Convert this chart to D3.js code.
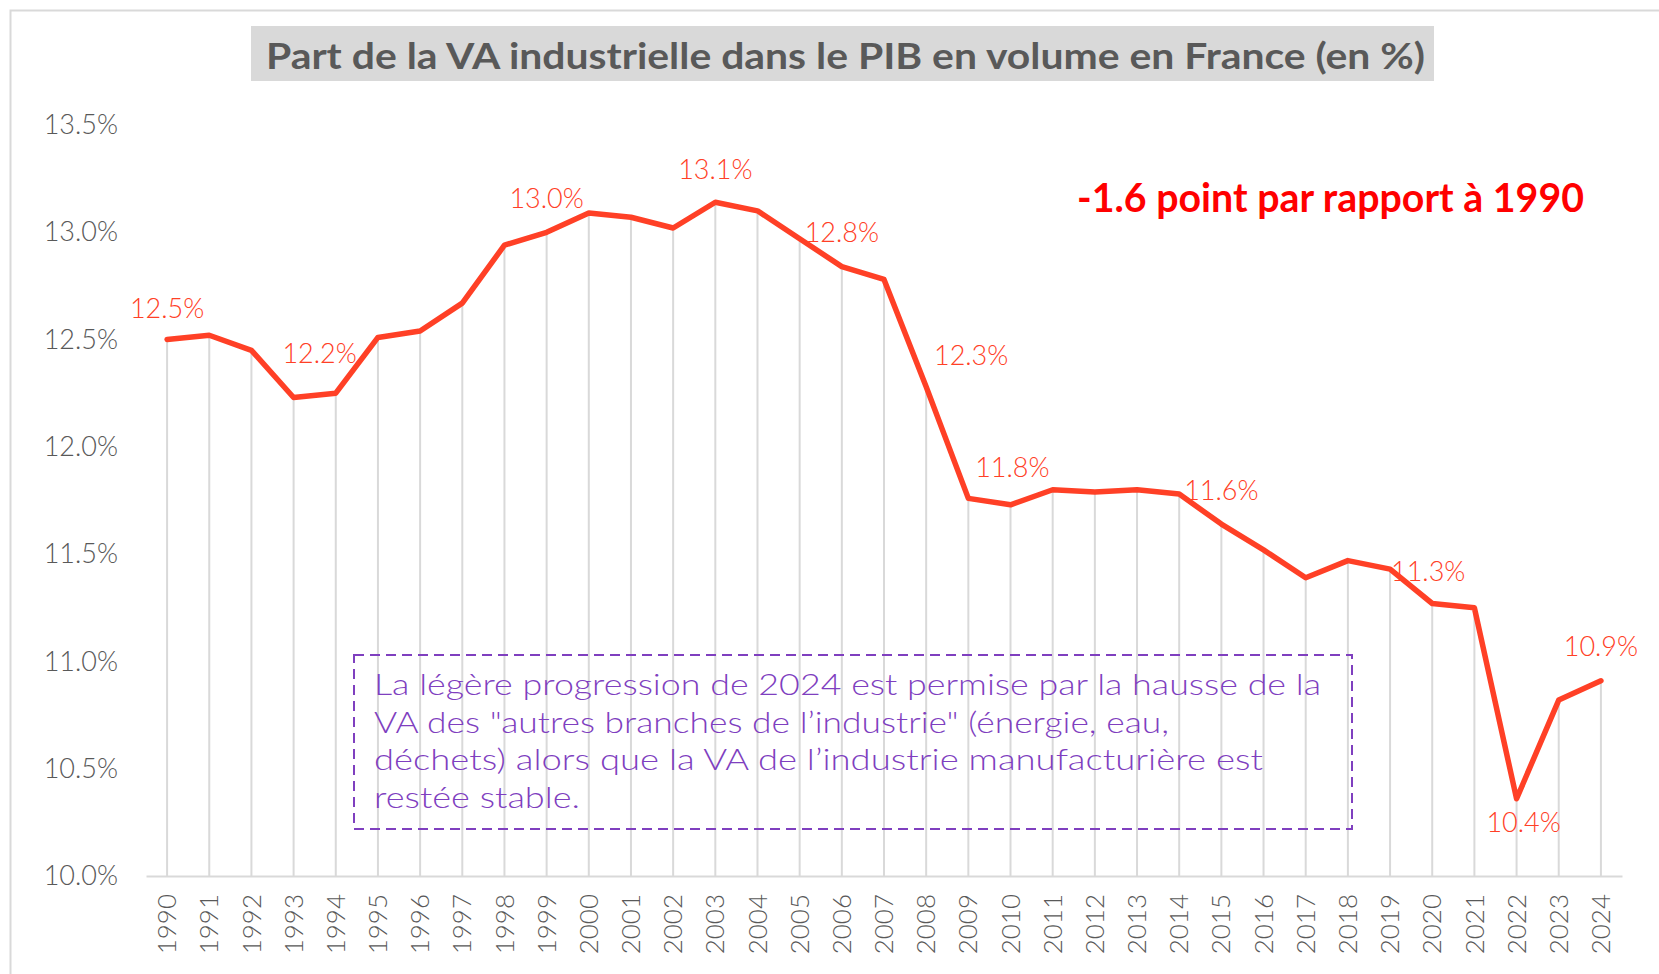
<!DOCTYPE html>
<html>
<head>
<meta charset="utf-8">
<script src="https://cdn.jsdelivr.net/npm/d3@7"></script>
<style>
  body { margin: 0; background: #fff; }
  svg { display: block; font-family: Lato, "Open Sans", sans-serif; }
</style>
</head>
<body>
<svg width="1659" height="974"></svg>
<script>

var years = [1990, 1991, 1992, 1993, 1994, 1995, 1996, 1997, 1998, 1999,
             2000, 2001, 2002, 2003, 2004, 2005, 2006, 2007, 2008, 2009,
             2010, 2011, 2012, 2013, 2014, 2015, 2016, 2017, 2018, 2019,
             2020, 2021, 2022, 2023, 2024];

var shareVA = [12.50, 12.52, 12.45, 12.23, 12.25, 12.51, 12.54, 12.67, 12.94, 13.00,
               13.09, 13.07, 13.02, 13.14, 13.10, 12.97, 12.84, 12.78, 12.28, 11.76,
               11.73, 11.80, 11.79, 11.80, 11.78, 11.64, 11.52, 11.39, 11.47, 11.43,
               11.27, 11.25, 10.36, 10.82, 10.91];

var yTicks = [10.0, 10.5, 11.0, 11.5, 12.0, 12.5, 13.0, 13.5];

var labelYears = [1990, 1993, 1999, 2003, 2006, 2008, 2009, 2015, 2020, 2022, 2024];

var title = 'Part de la VA industrielle dans le PIB en volume en France (en %)';
var callout = '-1.6 point par rapport à 1990';
var noteLines = [
  'La légère progression de 2024 est permise par la hausse de la',
  'VA des "autres branches de l\u2019industrie" (énergie, eau,',
  'déchets) alors que la VA de l\u2019industrie manufacturière est',
  'restée stable.'
];

var data = years.map(function(y, i) { return { year: y, value: shareVA[i] }; });

var svg = d3.select('svg'),
    w = +svg.attr('width'),
    h = +svg.attr('height');

var grey = '#d9d9d9',
    textGrey = '#595959',
    red = '#ff4026',
    purple = '#7f3fbf';

// outer frame (right / bottom edges fall outside the picture)
svg.append('rect')
    .attr('x', 10.5).attr('y', 10.5)
    .attr('width', w + 20).attr('height', h + 20)
    .attr('fill', 'none')
    .attr('stroke', grey)
    .attr('stroke-width', 2);

var x = d3.scaleBand()
      .domain(years)
      .range([146, 1622])
      .padding(0),
    y = d3.scaleLinear()
      .domain([10, 13.5])
      .range([876, 125]);

function cx(d) { return x(d.year) + x.bandwidth() / 2; }

// title
svg.append('rect')
    .attr('x', 251).attr('y', 26)
    .attr('width', 1183).attr('height', 55)
    .attr('fill', grey);

svg.append('text')
    .attr('x', 266).attr('y', 69)
    .attr('textLength', 1159)
    .attr('lengthAdjust', 'spacingAndGlyphs')
    .attr('fill', textGrey)
    .attr('font-weight', 700)
    .attr('font-size', 37)
    .text(title);

// y axis labels
var yAxis = svg.append('g')
    .attr('transform', 'translate(118,0)')
    .call(d3.axisLeft(y).tickValues(yTicks).tickSize(0).tickPadding(0)
      .tickFormat(function(d) { return d3.format('.1f')(d) + '%'; }));
yAxis.select('.domain').remove();
yAxis.selectAll('text')
    .attr('fill', textGrey)
    .attr('font-size', 27)
    .attr('font-weight', 300)
    .attr('font-family', 'Lato, sans-serif');

// drop lines
svg.selectAll('line.drop')
    .data(data)
    .enter()
    .append('line')
    .attr('class', 'drop')
    .attr('x1', cx).attr('x2', cx)
    .attr('y1', function(d) { return y(d.value); })
    .attr('y2', y(10))
    .attr('stroke', grey)
    .attr('stroke-width', 2);

// x axis
var xAxis = svg.append('g')
    .attr('transform', 'translate(0,' + y(10) + ')')
    .call(d3.axisBottom(x).tickSize(0).tickPadding(0));
xAxis.select('.domain')
    .attr('stroke', grey)
    .attr('stroke-width', 2);
xAxis.selectAll('text')
    .attr('transform', 'rotate(-90)')
    .attr('x', -18)
    .attr('y', 0)
    .attr('dy', '0.35em')
    .attr('text-anchor', 'end')
    .attr('fill', textGrey)
    .attr('font-size', 26)
    .attr('font-weight', 300)
    .attr('font-family', 'Lato, sans-serif');

// purple note
svg.append('rect')
    .attr('x', 354).attr('y', 655)
    .attr('width', 998).attr('height', 174)
    .attr('fill', 'none')
    .attr('stroke', purple)
    .attr('stroke-width', 2)
    .attr('stroke-dasharray', '10,6');

var noteWidths = [947, 795, 889, 206];
svg.selectAll('text.note')
    .data(noteLines)
    .enter()
    .append('text')
    .attr('class', 'note')
    .attr('x', 374)
    .attr('y', function(d, i) { return 695 + i * 37.7; })
    .attr('textLength', function(d, i) { return noteWidths[i]; })
    .attr('lengthAdjust', 'spacingAndGlyphs')
    .attr('fill', purple)
    .attr('font-size', 30)
    .attr('font-weight', 300)
    .text(function(d) { return d; });

// the series
var line = d3.line()
    .x(cx)
    .y(function(d) { return y(d.value); });

svg.append('path')
    .datum(data)
    .attr('d', line)
    .attr('fill', 'none')
    .attr('stroke', red)
    .attr('stroke-width', 5.5)
    .attr('stroke-linejoin', 'round')
    .attr('stroke-linecap', 'round');

// data labels, offsets as placed by hand in the original
var labelOffset = {
  1990: [0, -22], 1993: [26, -35], 1999: [0, -24], 2003: [0, -23],
  2006: [0, -25], 2008: [45, -22], 2009: [44, -21], 2015: [0, -24],
  2020: [-4, -22], 2022: [7, 33], 2024: [0, -25]
};

svg.selectAll('text.vlabel')
    .data(data.filter(function(d) { return labelYears.indexOf(d.year) > -1; }))
    .enter()
    .append('text')
    .attr('class', 'vlabel')
    .attr('x', function(d) { return cx(d) + labelOffset[d.year][0]; })
    .attr('y', function(d) { return y(d.value) + labelOffset[d.year][1]; })
    .attr('text-anchor', 'middle')
    .attr('fill', red)
    .attr('font-size', 27)
    .attr('font-weight', 300)
    .text(function(d) { return d.value.toFixed(1) + '%'; });

// callout
svg.append('text')
    .attr('x', 1077).attr('y', 212)
    .attr('textLength', 507)
    .attr('lengthAdjust', 'spacingAndGlyphs')
    .attr('fill', '#ff0000')
    .attr('font-weight', 700)
    .attr('font-size', 40)
    .text(callout);

</script>
</body>
</html>
